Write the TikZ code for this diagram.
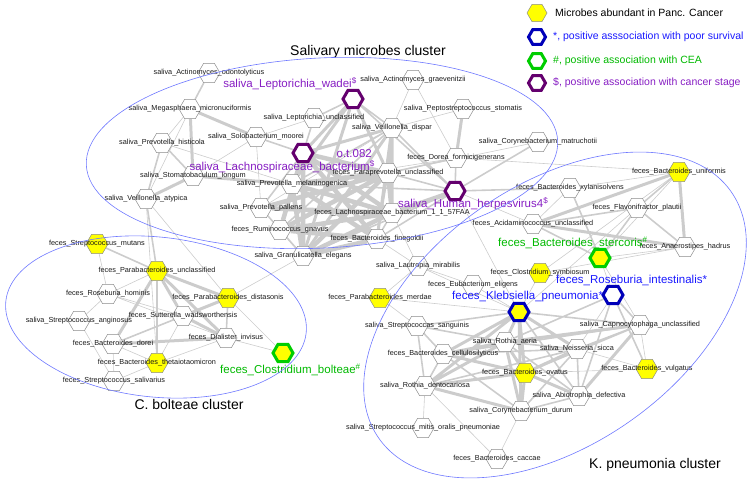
\documentclass[tikz,border=0pt]{standalone}
\usepackage{fontspec}
\setmainfont{Liberation Sans}
\usetikzlibrary{shapes.geometric,backgrounds}

\definecolor{edgegray}{RGB}{204,204,204}
\definecolor{hexyellow}{RGB}{255,255,0}
\definecolor{purpline}{RGB}{100,0,110}
\definecolor{purptext}{RGB}{135,30,195}
\definecolor{blueline}{RGB}{0,0,185}
\definecolor{bluetext}{RGB}{25,25,255}
\definecolor{greenline}{RGB}{0,205,0}
\definecolor{greentext}{RGB}{0,185,0}
\definecolor{ringblue}{RGB}{110,120,255}

\begin{document}
\begin{tikzpicture}[x=1pt, y=-1pt,
  lbl/.style={font=\fontsize{7.3}{8}\selectfont, inner sep=0pt, text=black!90},
  hex/.style={regular polygon, regular polygon sides=6, minimum size=22pt,
    inner sep=0pt, draw=black!45, line width=0.5pt, fill=white,
    label={[lbl]center:#1}},
  yhex/.style={hex=#1, fill=hexyellow},
  markhex/.style={regular polygon, regular polygon sides=6, minimum size=20pt,
    inner sep=0pt, fill=white, line width=3pt},
  big/.style={font=\fontsize{11.5}{13}\selectfont, inner sep=0pt},
  title/.style={font=\fontsize{14}{16}\selectfont, inner sep=0pt},
  legtext/.style={font=\fontsize{10.5}{12}\selectfont, inner sep=0pt, anchor=west},
  e1/.style={draw=edgegray, line width=0.6pt},
  e2/.style={draw=edgegray, line width=1.6pt},
  e3/.style={draw=edgegray, line width=3pt},
  e4/.style={draw=edgegray, line width=4.5pt},
  clus/.style={draw=ringblue, line width=0.6pt}]

  \path[use as bounding box] (0,0) rectangle (750,481);

  % Salivary microbes cluster
  \node[hex={saliva\_Actinomyces\_odontolyticus}] (aodo) at (209,73) {};
  \node[hex={saliva\_Actinomyces\_graevenitzii}] (agra) at (413,80) {};
  \node[hex={saliva\_Megasphaera\_micronuciformis}] (mega) at (190,109) {};
  \node[hex={saliva\_Leptorichia\_unclassified}] (lunc) at (314,118) {};
  \node[markhex, draw=purpline] (wadei) at (353,99) {};
  \node[hex={saliva\_Peptostreptococcus\_stomatis}] (pept) at (463,109) {};
  \node[hex={saliva\_Solobacterium\_moorei}] (solo) at (256,137) {};
  \node[hex={saliva\_Prevotella\_histicola}] (hist) at (162,143) {};
  \node[hex={saliva\_Veillonella\_dispar}] (vdis) at (392,128) {};
  \node[hex={saliva\_Corynebacterium\_matruchotii}] (cmat) at (538,142) {};
  \node[markhex, draw=purpline] (lach) at (303,153) {};
  \node[hex={feces\_Dorea\_formicigenerans}] (dorea) at (456,158) {};
  \node[hex={saliva\_Stomatobaculum\_longum}] (stom) at (193,176) {};
  \node[hex={feces\_Paraprevotella\_unclassified}] (para) at (388,173) {};
  \node[hex={saliva\_Prevotella\_melaninogenica}] (mela) at (292,184) {};
  \node[markhex, draw=purpline] (herp) at (455,191) {};
  \node[hex={saliva\_Veillonella\_atypica}] (vaty) at (146,199) {};
  \node[hex={saliva\_Prevotella\_pallens}] (pall) at (261,208) {};
  \node[hex={feces\_Lachnospiraceae\_bacterium\_1\_1\_57FAA}] (lfaa) at (392,213) {};
  \node[hex={feces\_Ruminococcus\_gnavus}] (rumi) at (280,230) {};
  \node[hex={feces\_Bacteroides\_finegoldii}] (fine) at (377,239) {};
  \node[hex={saliva\_Granulicatella\_elegans}] (gran) at (303,256) {};

  % K. pneumonia cluster
  \node[yhex={feces\_Bacteroides\_uniformis}] (unif) at (679,172) {};
  \node[hex={feces\_Bacteroides\_xylanisolvens}] (xyla) at (570,188) {};
  \node[hex={feces\_Flavonifractor\_plautii}] (flav) at (637,208) {};
  \node[hex={feces\_Acidaminococcus\_unclassified}] (acid) at (533,224) {};
  \node[hex={feces\_Anaerostipes\_hadrus}] (anae) at (685,247) {};
  \node[markhex, draw=greenline, fill=hexyellow] (ster) at (600,258) {};
  \node[yhex={feces\_Clostridium\_symbiosum}] (csym) at (540,273) {};
  \node[markhex, draw=blueline] (rint) at (613,295) {};
  \node[markhex, draw=blueline, fill=hexyellow] (kleb) at (519,312) {};
  \node[hex={saliva\_Lautropia\_mirabilis}] (laut) at (418,266) {};
  \node[hex={feces\_Eubacterium\_eligens}] (eubl) at (473,285) {};
  \node[yhex={feces\_Parabacteroides\_merdae}] (merd) at (380,298) {};
  \node[hex={saliva\_Streptococcas\_sanguinis}] (ssan) at (417,326) {};
  \node[hex={saliva\_Rothia\_aeria}] (raer) at (505,342) {};
  \node[hex={saliva\_Capnocytophaga\_unclassified}] (capn) at (640,325) {};
  \node[hex={saliva\_Neisseria\_sicca}] (neis) at (577,349) {};
  \node[hex={feces\_Bacteroides\_cellulosilyticus}] (cell) at (443,354) {};
  \node[yhex={feces\_Bacteroides\_ovatus}] (ovat) at (525,373) {};
  \node[yhex={feces\_Bacteroides\_vulgatus}] (vulg) at (647,369) {};
  \node[hex={saliva\_Rothia\_dentocariosa}] (rden) at (425,386) {};
  \node[hex={saliva\_Abiotrophia\_defectiva}] (abio) at (579,396) {};
  \node[hex={saliva\_Corynebacterium\_durum}] (cdur) at (521,411) {};
  \node[hex={saliva\_Streptococcus\_mitis\_oralis\_pneumoniae}] (smit) at (423,428) {};
  \node[hex={feces\_Bacteroides\_caccae}] (cacc) at (497,459) {};

  % C. bolteae cluster
  \node[yhex={feces\_Streptococcus\_mutans}] (mutn) at (97,244) {};
  \node[yhex={feces\_Parabacteroides\_unclassified}] (punc) at (157,271) {};
  \node[hex={feces\_Roseburia\_hominis}] (rhom) at (108,294) {};
  \node[yhex={feces\_Parabacteroides\_distasonis}] (dist) at (228,298) {};
  \node[hex={feces\_Sutterella\_wadsworthensis}] (sutt) at (183,316) {};
  \node[hex={saliva\_Streptococcus\_anginosus}] (angi) at (79,321) {};
  \node[hex={feces\_Dialister\_invisus}] (dial) at (226,338) {};
  \node[hex={feces\_Bacteroides\_dorei}] (dore) at (113,344) {};
  \node[markhex, draw=greenline, fill=hexyellow] (bolt) at (283,353) {};
  \node[yhex={feces\_Bacteroides\_thetaiotaomicron}] (thet) at (157,363) {};
  \node[hex={feces\_Streptococcus\_salivarius}] (saliv) at (114,381) {};

  % marked microbes
  \node[big, text=purptext, anchor=east] (wadeiL) at (357,84) {saliva\_Leptorichia\_wadei\textsuperscript{\$}};
  \node[big, text=purptext, anchor=east] (otL) at (372,154) {o.t.082};
  \node[big, text=purptext, anchor=east] (lachL) at (375,167) {saliva\_Lachnospiraceae\_bacterium\textsuperscript{\$}};
  \node[big, text=purptext, anchor=west] (herpL) at (398,204) {saliva\_Human\_herpesvirus4\textsuperscript{\$}};
  \node[big, text=greentext, anchor=west] (sterL) at (498,243) {feces\_Bacteroides\_stercoris\textsuperscript{\#}};
  \node[big, text=bluetext, anchor=west] (rintL) at (556,280) {feces\_Roseburia\_intestinalis*};
  \node[big, text=bluetext, anchor=west] (klebL) at (452,297) {feces\_Klebsiella\_pneumonia*};
  \node[big, text=greentext, anchor=west] (boltL) at (220,370) {feces\_Clostridium\_bolteae\textsuperscript{\#}};

  % cluster titles
  \node[title] (salT) at (368,52) {Salivary microbes cluster};
  \node[title] (cbT) at (189,404) {C. bolteae cluster};
  \node[title] (kpT) at (655,465) {K. pneumonia cluster};

  % cluster rings
  \draw[clus, rotate around={3:(322,153)}] (322,153) ellipse [x radius=236, y radius=95];
  \draw[clus, rotate around={-6:(156,317)}] (156,317) ellipse [x radius=151, y radius=80];
  \draw[clus, rotate around={35:(555,315)}] (555,315) ellipse [x radius=215, y radius=130];

  % legend
  \node[regular polygon, regular polygon sides=6, minimum size=20pt, inner sep=0pt,
    fill=hexyellow, draw=black!45, line width=0.5pt] (legY) at (537,13) {};
  \node[markhex, draw=blueline, minimum size=17pt] (legB) at (537,37) {};
  \node[markhex, draw=greenline, minimum size=17pt] (legG) at (537,61) {};
  \node[markhex, draw=purpline, minimum size=17pt] (legP) at (537,83) {};
  \node[legtext] (legYt) at (555,13) {Microbes abundant in Panc. Cancer};
  \node[legtext, text=bluetext] (legBt) at (553,37) {*, positive asssociation with poor survival};
  \node[legtext, text=greentext] (legGt) at (553,61) {\#, positive association with CEA};
  \node[legtext, text=purptext] (legPt) at (553,83) {\$, positive association with cancer stage};

  \begin{pgfonlayer}{background}
    % salivary edges
    \draw[e1] (mega) -- (hist) (mega) -- (vaty) (solo) -- (lunc) (solo) -- (pall)
      (solo) -- (stom) (agra) -- (vdis) (agra) -- (dorea) (pept) -- (vdis)
      (vdis) -- (pall) (cmat) -- (para) (dorea) -- (mela) (hist) -- (mela)
      (vaty) -- (dist) (vaty) -- (thet) (gran) -- (dist) (fine) -- (laut)
      (lfaa) -- (laut) (herp) -- (acid) (dorea) -- (unif) (herp) -- (kleb);
    \draw[e2] (aodo) -- (mega) (hist) -- (stom) (hist) -- (vaty) (solo) -- (lach)
      (lunc) -- (wadei) (lunc) -- (lach) (wadei) -- (vdis) (wadei) -- (herp)
      (vdis) -- (herp) (vdis) -- (mela) (vdis) -- (rumi) (cmat) -- (herp)
      (dorea) -- (herp) (dorea) -- (para) (lach) -- (mela) (lach) -- (pall)
      (para) -- (fine) (para) -- (herp) (herp) -- (gran) (herp) -- (fine)
      (herp) -- (mela) (pall) -- (gran) (rumi) -- (gran) (lfaa) -- (fine)
      (vaty) -- (punc) (herp) -- (xyla);
    \draw[e3] (mega) -- (solo) (mega) -- (stom) (stom) -- (vaty) (stom) -- (mela)
      (wadei) -- (lach) (wadei) -- (para) (wadei) -- (gran) (wadei) -- (mela)
      (pept) -- (dorea) (vdis) -- (para) (vdis) -- (lfaa) (vdis) -- (fine)
      (vdis) -- (gran) (vdis) -- (lach);
    \draw[e4] (lach) -- (para) (lach) -- (lfaa) (lach) -- (gran) (lach) -- (fine)
      (lach) -- (rumi) (para) -- (mela) (para) -- (lfaa) (para) -- (gran)
      (para) -- (rumi) (para) -- (pall) (mela) -- (lfaa) (mela) -- (gran)
      (mela) -- (fine) (herp) -- (lfaa) (pall) -- (lfaa) (rumi) -- (lfaa)
      (rumi) -- (fine) (lfaa) -- (gran) (fine) -- (gran);
    % K. pneumonia edges
    \draw[e1] (unif) -- (xyla) (unif) -- (ster) (unif) -- (csym) (xyla) -- (acid)
      (flav) -- (kleb) (anae) -- (ster) (anae) -- (csym) (ster) -- (rint)
      (kleb) -- (laut) (kleb) -- (eubl) (kleb) -- (merd) (rint) -- (neis)
      (capn) -- (vulg) (neis) -- (vulg) (ovat) -- (vulg) (rden) -- (smit)
      (cdur) -- (cacc) (rden) -- (cacc) (ssan) -- (merd) (merd) -- (laut)
      (laut) -- (eubl) (capn) -- (ster) (csym) -- (kleb);
    \draw[e2] (unif) -- (flav) (xyla) -- (ster) (flav) -- (acid) (flav) -- (anae)
      (flav) -- (ster) (acid) -- (ster) (kleb) -- (capn) (kleb) -- (ssan)
      (kleb) -- (abio) (rint) -- (capn) (rint) -- (raer) (rint) -- (abio)
      (capn) -- (neis) (capn) -- (ovat) (capn) -- (cell) (raer) -- (neis)
      (raer) -- (ssan) (raer) -- (abio) (neis) -- (cdur) (neis) -- (abio)
      (neis) -- (cell) (cell) -- (rden) (cell) -- (ssan) (cell) -- (cdur)
      (cdur) -- (abio) (rint) -- (vulg) (rden) -- (ssan) (neis) -- (rden);
    \draw[e3] (unif) -- (acid) (unif) -- (anae) (acid) -- (anae) (kleb) -- (raer)
      (kleb) -- (ovat) (kleb) -- (neis) (kleb) -- (cell) (kleb) -- (rden)
      (kleb) -- (cdur) (capn) -- (raer) (capn) -- (abio) (raer) -- (ovat)
      (raer) -- (cell) (raer) -- (cdur) (raer) -- (rden) (neis) -- (ovat)
      (ovat) -- (cell) (ovat) -- (rden) (ovat) -- (cdur) (ovat) -- (abio)
      (rden) -- (cdur);
    % C. bolteae edges
    \draw[e1] (mutn) -- (rhom) (punc) -- (rhom) (dist) -- (bolt) (sutt) -- (thet)
      (dore) -- (saliv) (dore) -- (thet) (dial) -- (thet) (dial) -- (bolt)
      (angi) -- (saliv) (rhom) -- (angi) (rhom) -- (dial) (rhom) -- (sutt)
      (thet) -- (saliv);
    \draw[e2] (mutn) -- (punc) (punc) -- (thet) (dist) -- (dial) (dist) -- (dore)
      (sutt) -- (dore);
    \draw[e3] (punc) -- (dist) (punc) -- (sutt) (punc) -- (dial) (punc) -- (dore)
      (dist) -- (sutt) (sutt) -- (dial) (dore) -- (dial);
  \end{pgfonlayer}
\end{tikzpicture}
\end{document}
